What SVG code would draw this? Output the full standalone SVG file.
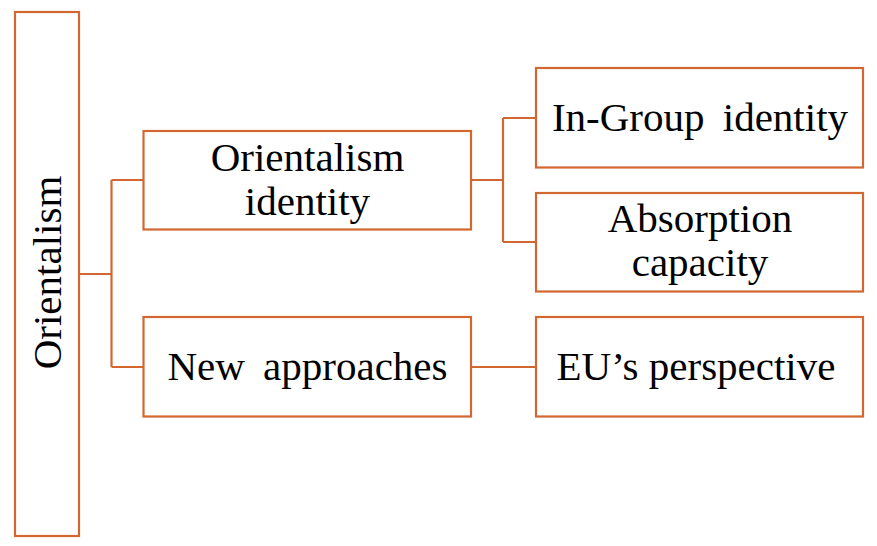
<svg xmlns="http://www.w3.org/2000/svg" width="877" height="546" viewBox="0 0 877 546">
<style>
.box{fill:#fff;stroke:#D2672F;stroke-width:2.2}
.con{fill:none;stroke:#D2672F;stroke-width:2.2}
.t{font-family:"Liberation Serif","Times New Roman",serif;font-size:41px;fill:#000;text-anchor:middle}
.ws{word-spacing:8px}
</style>
<rect width="877" height="546" fill="#fff"/>
<g id="connectors">
<path class="con" d="M79,274H111.5M111.5,180V367M111.5,180H143.5M111.5,367H143.5"/>
<path class="con" d="M471,180H503M503,118V242M503,118H536M503,242H536"/>
<path class="con" d="M471,367H536"/>
</g>
<g id="orientalism">
<rect class="box" x="15" y="12" width="64" height="524"/>
<text class="t" transform="translate(61,272.5) rotate(-90)">Orientalism</text>
</g>
<g id="orientalism-identity">
<rect class="box" x="143.5" y="131" width="327.5" height="98.5"/>
<text class="t"><tspan x="307.5" y="171">Orientalism</tspan><tspan x="307.5" y="214.5">identity</tspan></text>
</g>
<g id="new-approaches">
<rect class="box" x="143.5" y="317" width="327.5" height="99.5"/>
<text class="t ws" x="307.5" y="380">New approaches</text>
</g>
<g id="in-group-identity">
<rect class="box" x="536" y="68" width="327" height="99.5"/>
<text class="t ws" x="700" y="131">In-Group identity</text>
</g>
<g id="absorption-capacity">
<rect class="box" x="536" y="193" width="327" height="98.5"/>
<text class="t"><tspan x="700" y="232">Absorption</tspan><tspan x="700" y="275.5">capacity</tspan></text>
</g>
<g id="eu-perspective">
<rect class="box" x="536" y="317" width="327" height="99.5"/>
<text class="t" x="696" y="380">EU’s perspective</text>
</g>
</svg>
